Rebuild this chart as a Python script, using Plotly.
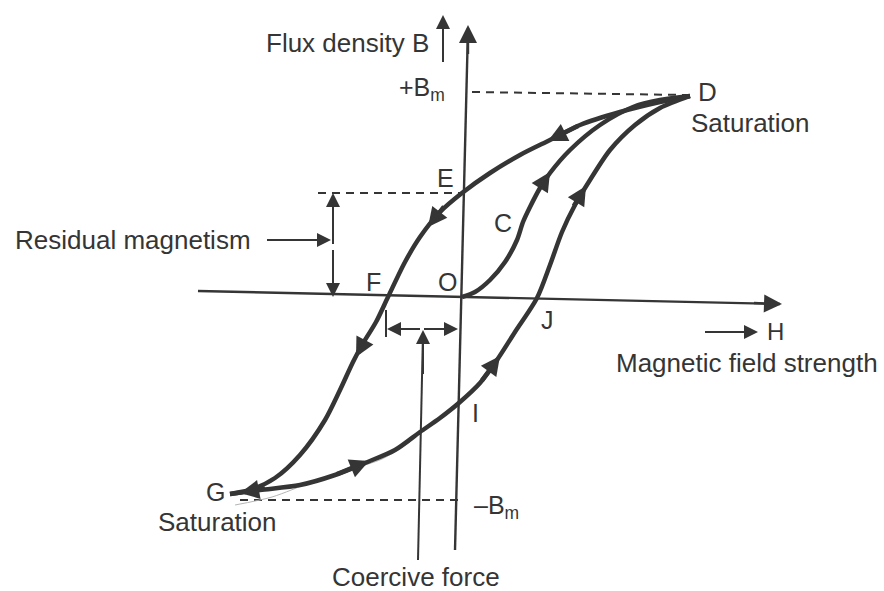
import plotly.graph_objects as go

# ---- Data (H = magnetic field strength, B = flux density; arbitrary units, origin at O) ----
initial_H = [0, 13, 28, 43, 55, 61, 68, 78, 88, 108, 138, 171, 198, 228]
initial_B = [0, 5, 17, 35, 57, 75, 90, 109, 124, 147, 172, 190, 197, 201]

descend_H = [228, 198, 158, 118, 88, 58, 28, 0, -22, -42, -57, -74, -86, -100, -109, -122, -137, -162, -187, -212, -232]
descend_B = [201, 195, 185, 172, 157, 142, 124, 104, 85, 60, 35, 0, -25, -48, -65, -93, -123, -158, -181, -193, -197]

ascend_H = [-232, -202, -162, -127, -97, -67, -42, -22, -2, 18, 35, 53, 75, 88, 100, 113, 128, 148, 173, 198, 228]
ascend_B = [-197, -193, -188, -178, -166, -153, -135, -121, -105, -86, -63, -35, -1, 32, 65, 92, 117, 147, 172, 189, 201]

faint_H = [-227, -190, -150, -110, -80, -52]
faint_B = [-208, -200, -185, -172, -162, -145]

B_max = 204
B_residual = 104
H_coercive = -76

ink = "#353535"
font = dict(family="Liberation Sans, Arial, sans-serif", size=26, color=ink)

fig = go.Figure()

def curve(h, b, width=4.5, color=ink, dash=None):
    fig.add_trace(go.Scatter(x=h, y=b, mode="lines",
                             line=dict(color=color, width=width, shape="spline", smoothing=0.8, dash=dash),
                             hoverinfo="skip", showlegend=False))

def line(h, b, width=2, color=ink, dash=None):
    fig.add_trace(go.Scatter(x=h, y=b, mode="lines",
                             line=dict(color=color, width=width, dash=dash),
                             hoverinfo="skip", showlegend=False))

# axes
line([6, -7], [269, -253], width=2.4)
line([-264, 318], [6, -7], width=2.4)

# dashed reference lines
line([10, 225], [B_max + 1, B_max - 2], width=2, dash="8px,6px")
line([-144, 0], [B_residual, B_residual], width=2, dash="8px,6px")
line([-222, -2], [-B_max + 1, -B_max + 1], width=2, dash="8px,6px")

# residual & coercive markers
line([H_coercive, H_coercive], [-13, -40], width=2)
line([-39, -44], [-35, -263], width=2)

# faint pencil line
curve(faint_H, faint_B, width=1, color="#b5b5b5")

# hysteresis curves
curve(initial_H, initial_B)
curve(descend_H, descend_B)
curve(ascend_H, ascend_B)

ann = []

def arrow(tip, tail, width=2, size=1.3, head=2):
    ann.append(dict(x=tip[0], y=tip[1], ax=tail[0], ay=tail[1], xref="x", yref="y",
                    axref="x", ayref="y", showarrow=True, arrowhead=head, arrowsize=size,
                    arrowwidth=width, arrowcolor=ink, standoff=0, startstandoff=0, text=" ",
                    font=dict(size=2)))

# axis arrowheads
arrow((6, 272), (6, 240), width=2.4, size=1.5)
arrow((320, -7), (290, -6), width=2.4, size=1.5)
# small direction arrows
arrow((-19, 282), (-19, 232), width=2, size=1.4)
arrow((296, -35), (241, -35), width=2, size=1.4)
# residual magnetism double arrow
arrow((-129, B_residual), (-129, 50), width=2, size=1.4)
arrow((-129, 0), (-129, 50), width=2, size=1.4)
arrow((-131, 57), (-197, 57), width=2, size=1.4)
# coercive force double arrow
arrow((H_coercive + 1, -32), (-40, -32), width=2, size=1.4)
arrow((-4, -32), (-40, -32), width=2, size=1.4)
arrow((-39, -33), (-39, -80), width=2, size=1.4)
# curve direction arrows
for tip, tail in [((88, 125), (76, 106)),
                  ((86, 156), (118, 172)),
                  ((-34, 70), (-16, 93)),
                  ((-106, -60), (-96, -41)),
                  ((-93, -164), (-127, -178)),
                  ((38, -59), (18, -86)),
                  ((124, 111), (110, 88)),
                  ((-222, -196), (-195, -191))]:
    arrow(tip, tail, width=4.5, size=0.85)

def label(text, x, y, xanchor="center", size=26):
    ann.append(dict(x=x, y=y, xref="x", yref="y", text=text, showarrow=False,
                    xanchor=xanchor, yanchor="middle", font=dict(font, size=size)))

label("Flux density B", -115, 254)
label("+B<sub>m</sub>", -15, 208, xanchor="right", size=25)
label("D", 245, 205)
label("Saturation", 288, 174)
label("E", -17, 119, size=25)
label("Residual magnetism", -329, 57)
label("F", -89, 15, size=25)
label("O", -15, 15, size=25)
label("C", 41, 74, size=25)
label("J", 85, -23, size=25)
label("I", 13, -116, size=25)
label("H", 313, -34, size=24)
label("Magnetic field strength", 285, -66)
label("G", -247, -195, size=25)
label("Saturation", -245, -225)
label("–B<sub>m</sub>", 10, -210, xanchor="left", size=25)
label("Coercive force", -46, -280)

fig.update_layout(
    width=884, height=591,
    margin=dict(l=0, r=0, t=0, b=0),
    paper_bgcolor="white", plot_bgcolor="white",
    xaxis=dict(range=[-462, 422], visible=False, fixedrange=True),
    yaxis=dict(range=[-294, 297], visible=False, fixedrange=True),
    annotations=ann,
    showlegend=False,
)

fig.write_html("out.html", config={"displayModeBar": False},
               post_script="document.body.style.margin='0';document.body.style.overflow='hidden';")
